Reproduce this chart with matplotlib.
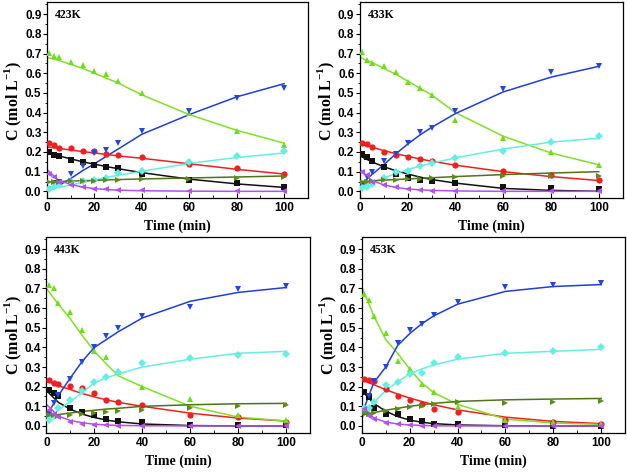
import matplotlib
matplotlib.use("Agg")

import numpy as np
import matplotlib.pyplot as plt
from matplotlib.ticker import MultipleLocator

plt.rcParams['font.family'] = ['Liberation Serif', 'DejaVu Serif']
plt.rcParams['font.weight'] = 'bold'
plt.rcParams['mathtext.fontset'] = 'custom'
plt.rcParams['mathtext.rm'] = 'Liberation Serif:bold'
plt.rcParams['mathtext.bf'] = 'Liberation Serif:bold'

# measured times (min) and model times
t = [1, 3, 5, 10, 15, 20, 25, 30, 40, 60, 80, 100]
t_fit = [0, 5, 10, 15, 20, 25, 30, 40, 60, 80, 100]

temps = ['423K', '433K', '443K', '453K']

# series order: black, red, green, blue, cyan, olive, purple
colors = ['#111111', '#ee2020', '#6fdc1e', '#2344e0', '#66eee0', '#5e8a1c', '#b44ff0']
line_colors = ['#111111', '#ee2020', '#80e028', '#1f3fd8', '#66eee0', '#4f7418', '#b44ff0']
markers = ['s', 'o', '^', 'v', 'D', '>', '<']
msizes = [4, 4.5, 5, 5, 4, 5, 5]

# ---- 423K ----
d423_black = [0.200, 0.185, 0.180, 0.160, 0.148, 0.135, 0.125, 0.117, 0.090, 0.060, 0.042, 0.022]
d423_red = [0.245, 0.235, 0.222, 0.218, 0.207, 0.205, 0.190, 0.185, 0.172, 0.140, 0.117, 0.090]
d423_green = [0.705, 0.690, 0.680, 0.658, 0.640, 0.612, 0.595, 0.563, 0.500, 0.400, 0.305, 0.236]
d423_blue = [0.010, 0.040, 0.050, 0.090, 0.130, 0.195, 0.210, 0.245, 0.305, 0.410, 0.475, 0.525]
d423_cyan = [0.010, 0.020, 0.030, 0.045, 0.055, 0.060, 0.070, 0.095, 0.105, 0.148, 0.182, 0.203]
d423_olive = [0.050, 0.050, 0.050, 0.052, 0.055, 0.055, 0.057, 0.060, 0.065, 0.065, 0.070, 0.075]
d423_purple = [0.090, 0.075, 0.050, 0.030, 0.020, 0.012, 0.010, 0.007, 0.005, 0.002, 0.000, 0.000]

f423_black = [0.195, 0.180, 0.165, 0.150, 0.138, 0.126, 0.115, 0.095, 0.062, 0.038, 0.020]
f423_red = [0.225, 0.218, 0.210, 0.202, 0.195, 0.188, 0.180, 0.168, 0.140, 0.112, 0.088]
f423_green = [0.680, 0.665, 0.645, 0.625, 0.600, 0.575, 0.550, 0.490, 0.390, 0.310, 0.245]
f423_blue = [0.000, 0.030, 0.065, 0.105, 0.140, 0.178, 0.215, 0.290, 0.390, 0.480, 0.547]
f423_cyan = [0.010, 0.020, 0.032, 0.045, 0.058, 0.070, 0.082, 0.102, 0.142, 0.172, 0.195]
f423_olive = [0.048, 0.050, 0.052, 0.054, 0.056, 0.058, 0.060, 0.063, 0.068, 0.073, 0.078]
f423_purple = [0.110, 0.055, 0.035, 0.022, 0.014, 0.009, 0.006, 0.003, 0.001, 0.000, 0.000]

# ---- 433K ----
d433_black = [0.190, 0.175, 0.155, 0.125, 0.090, 0.070, 0.060, 0.055, 0.040, 0.020, 0.018, 0.010]
d433_red = [0.245, 0.240, 0.225, 0.200, 0.185, 0.175, 0.165, 0.155, 0.135, 0.105, 0.085, 0.060]
d433_green = [0.710, 0.665, 0.650, 0.635, 0.605, 0.555, 0.525, 0.490, 0.360, 0.270, 0.200, 0.135]
d433_blue = [0.030, 0.075, 0.100, 0.155, 0.190, 0.245, 0.300, 0.320, 0.410, 0.520, 0.605, 0.635]
d433_cyan = [0.015, 0.020, 0.035, 0.070, 0.100, 0.105, 0.130, 0.145, 0.170, 0.205, 0.250, 0.280]
d433_olive = [0.050, 0.050, 0.055, 0.060, 0.060, 0.065, 0.065, 0.070, 0.075, 0.080, 0.080, 0.080]
d433_purple = [0.100, 0.085, 0.050, 0.030, 0.020, 0.010, 0.007, 0.004, 0.002, 0.000, 0.000, 0.000]

f433_black = [0.180, 0.150, 0.125, 0.105, 0.088, 0.073, 0.060, 0.042, 0.015, 0.005, 0.000]
f433_red = [0.245, 0.225, 0.207, 0.192, 0.178, 0.165, 0.153, 0.133, 0.100, 0.075, 0.055]
f433_green = [0.680, 0.655, 0.625, 0.595, 0.560, 0.525, 0.490, 0.400, 0.280, 0.195, 0.135]
f433_blue = [0.030, 0.085, 0.135, 0.190, 0.240, 0.285, 0.325, 0.395, 0.505, 0.580, 0.635]
f433_cyan = [0.020, 0.045, 0.068, 0.090, 0.110, 0.128, 0.143, 0.170, 0.215, 0.250, 0.270]
f433_olive = [0.050, 0.053, 0.057, 0.060, 0.063, 0.066, 0.069, 0.075, 0.085, 0.093, 0.100]
f433_purple = [0.110, 0.055, 0.033, 0.020, 0.012, 0.008, 0.005, 0.002, 0.000, 0.000, 0.000]

# ---- 443K ----
d443_black = [0.185, 0.170, 0.150, 0.090, 0.070, 0.055, 0.035, 0.025, 0.020, 0.005, 0.003, 0.003]
d443_red = [0.235, 0.220, 0.215, 0.205, 0.195, 0.170, 0.130, 0.120, 0.108, 0.055, 0.045, 0.020]
d443_green = [0.720, 0.700, 0.625, 0.580, 0.490, 0.380, 0.350, 0.275, 0.200, 0.135, 0.055, 0.030]
d443_blue = [0.060, 0.115, 0.160, 0.240, 0.325, 0.400, 0.460, 0.500, 0.560, 0.605, 0.695, 0.715]
d443_cyan = [0.030, 0.050, 0.090, 0.130, 0.180, 0.225, 0.250, 0.275, 0.320, 0.345, 0.360, 0.365]
d443_olive = [0.055, 0.055, 0.050, 0.055, 0.060, 0.065, 0.070, 0.078, 0.080, 0.090, 0.100, 0.105]
d443_purple = [0.080, 0.060, 0.045, 0.020, 0.010, 0.006, 0.004, 0.002, 0.000, 0.000, 0.000, 0.000]

f443_black = [0.180, 0.120, 0.085, 0.060, 0.043, 0.030, 0.021, 0.010, 0.002, 0.000, 0.000]
f443_red = [0.230, 0.205, 0.185, 0.165, 0.148, 0.133, 0.120, 0.100, 0.065, 0.040, 0.025]
f443_green = [0.700, 0.620, 0.545, 0.460, 0.380, 0.315, 0.255, 0.200, 0.100, 0.045, 0.025]
f443_blue = [0.050, 0.155, 0.245, 0.330, 0.400, 0.440, 0.480, 0.550, 0.635, 0.680, 0.705]
f443_cyan = [0.030, 0.080, 0.125, 0.170, 0.220, 0.245, 0.265, 0.300, 0.340, 0.370, 0.380]
f443_olive = [0.050, 0.058, 0.066, 0.074, 0.080, 0.086, 0.090, 0.100, 0.108, 0.113, 0.115]
f443_purple = [0.110, 0.050, 0.028, 0.016, 0.009, 0.005, 0.003, 0.001, 0.000, 0.000, 0.000]

# ---- 453K ----
d453_black = [0.175, 0.145, 0.090, 0.060, 0.060, 0.035, 0.025, 0.012, 0.008, 0.005, 0.002, 0.002]
d453_red = [0.240, 0.235, 0.230, 0.190, 0.155, 0.130, 0.110, 0.085, 0.070, 0.030, 0.020, 0.012]
d453_green = [0.670, 0.640, 0.560, 0.475, 0.330, 0.290, 0.215, 0.175, 0.095, 0.030, 0.020, 0.010]
d453_blue = [0.070, 0.150, 0.230, 0.300, 0.420, 0.490, 0.520, 0.565, 0.630, 0.705, 0.720, 0.730]
d453_cyan = [0.090, 0.090, 0.120, 0.210, 0.225, 0.265, 0.270, 0.320, 0.350, 0.370, 0.380, 0.400]
d453_olive = [0.065, 0.060, 0.065, 0.075, 0.085, 0.095, 0.100, 0.110, 0.120, 0.115, 0.120, 0.125]
d453_purple = [0.085, 0.050, 0.035, 0.015, 0.008, 0.005, 0.002, 0.000, 0.000, 0.000, 0.000, 0.000]

f453_black = [0.180, 0.115, 0.075, 0.048, 0.030, 0.019, 0.012, 0.005, 0.001, 0.000, 0.000]
f453_red = [0.235, 0.210, 0.185, 0.162, 0.142, 0.125, 0.108, 0.082, 0.045, 0.023, 0.012]
f453_green = [0.710, 0.560, 0.440, 0.370, 0.290, 0.220, 0.170, 0.110, 0.035, 0.015, 0.008]
f453_blue = [0.060, 0.220, 0.300, 0.410, 0.470, 0.520, 0.560, 0.620, 0.685, 0.710, 0.720]
f453_cyan = [0.040, 0.120, 0.180, 0.225, 0.265, 0.290, 0.310, 0.340, 0.370, 0.380, 0.390]
f453_olive = [0.055, 0.068, 0.080, 0.090, 0.100, 0.108, 0.115, 0.125, 0.133, 0.137, 0.140]
f453_purple = [0.110, 0.040, 0.020, 0.010, 0.005, 0.003, 0.001, 0.000, 0.000, 0.000, 0.000]

data = [
    [d423_black, d423_red, d423_green, d423_blue, d423_cyan, d423_olive, d423_purple],
    [d433_black, d433_red, d433_green, d433_blue, d433_cyan, d433_olive, d433_purple],
    [d443_black, d443_red, d443_green, d443_blue, d443_cyan, d443_olive, d443_purple],
    [d453_black, d453_red, d453_green, d453_blue, d453_cyan, d453_olive, d453_purple],
]
fits = [
    [f423_black, f423_red, f423_green, f423_blue, f423_cyan, f423_olive, f423_purple],
    [f433_black, f433_red, f433_green, f433_blue, f433_cyan, f433_olive, f433_purple],
    [f443_black, f443_red, f443_green, f443_blue, f443_cyan, f443_olive, f443_purple],
    [f453_black, f453_red, f453_green, f453_blue, f453_cyan, f453_olive, f453_purple],
]

# axes boxes in figure fraction [left, bottom, width, height]
boxes = [
    [0.075, 0.580, 0.416, 0.415],
    [0.574, 0.580, 0.419, 0.415],
    [0.074, 0.083, 0.421, 0.414],
    [0.577, 0.083, 0.420, 0.414],
]

tick_font = {'family': 'Liberation Sans', 'weight': 'bold', 'size': 8.5}

fig = plt.figure(figsize=(6.27, 4.72), dpi=100)

for k in range(4):
    ax = fig.add_axes(boxes[k])
    for i in range(7):
        ax.plot(t_fit, fits[k][i], color=line_colors[i], lw=1.1, zorder=2)
        ax.plot(t, data[k][i], linestyle='none', marker=markers[i],
                color=colors[i], markersize=msizes[i], markeredgewidth=0, zorder=3)
    ax.set_xlim(0, 110)
    ax.set_ylim(-0.035, 0.96)
    ax.xaxis.set_minor_locator(MultipleLocator(10))
    ax.yaxis.set_minor_locator(MultipleLocator(0.05))
    xt = [0, 20, 40, 60, 80, 100]
    yt = np.arange(0, 0.95, 0.1)
    ax.set_xticks(xt)
    ax.set_xticklabels([str(v) for v in xt], fontdict=tick_font)
    ax.set_yticks(yt)
    ax.set_yticklabels(['%.1f' % v for v in yt], fontdict=tick_font)
    ax.tick_params(axis='x', which='major', direction='in', length=3.5, width=0.8, pad=3)
    ax.tick_params(axis='x', which='minor', direction='in', length=2, width=0.6)
    ax.tick_params(axis='y', which='major', direction='out', length=3, width=0.8, pad=1)
    ax.tick_params(axis='y', which='minor', direction='out', length=1.8, width=0.6)
    for sp in ax.spines.values():
        sp.set_linewidth(0.9)
    ax.set_xlabel('Time (min)', fontsize=10, fontweight='bold', labelpad=4)
    ax.set_ylabel('C (mol L$^{-1}$)', fontsize=11.5, fontweight='bold', labelpad=0.5)
    ax.text(0.03, 0.965, temps[k], transform=ax.transAxes, ha='left', va='top',
            fontsize=8.5, fontweight='bold')

fig.savefig('out.png', dpi=100)
